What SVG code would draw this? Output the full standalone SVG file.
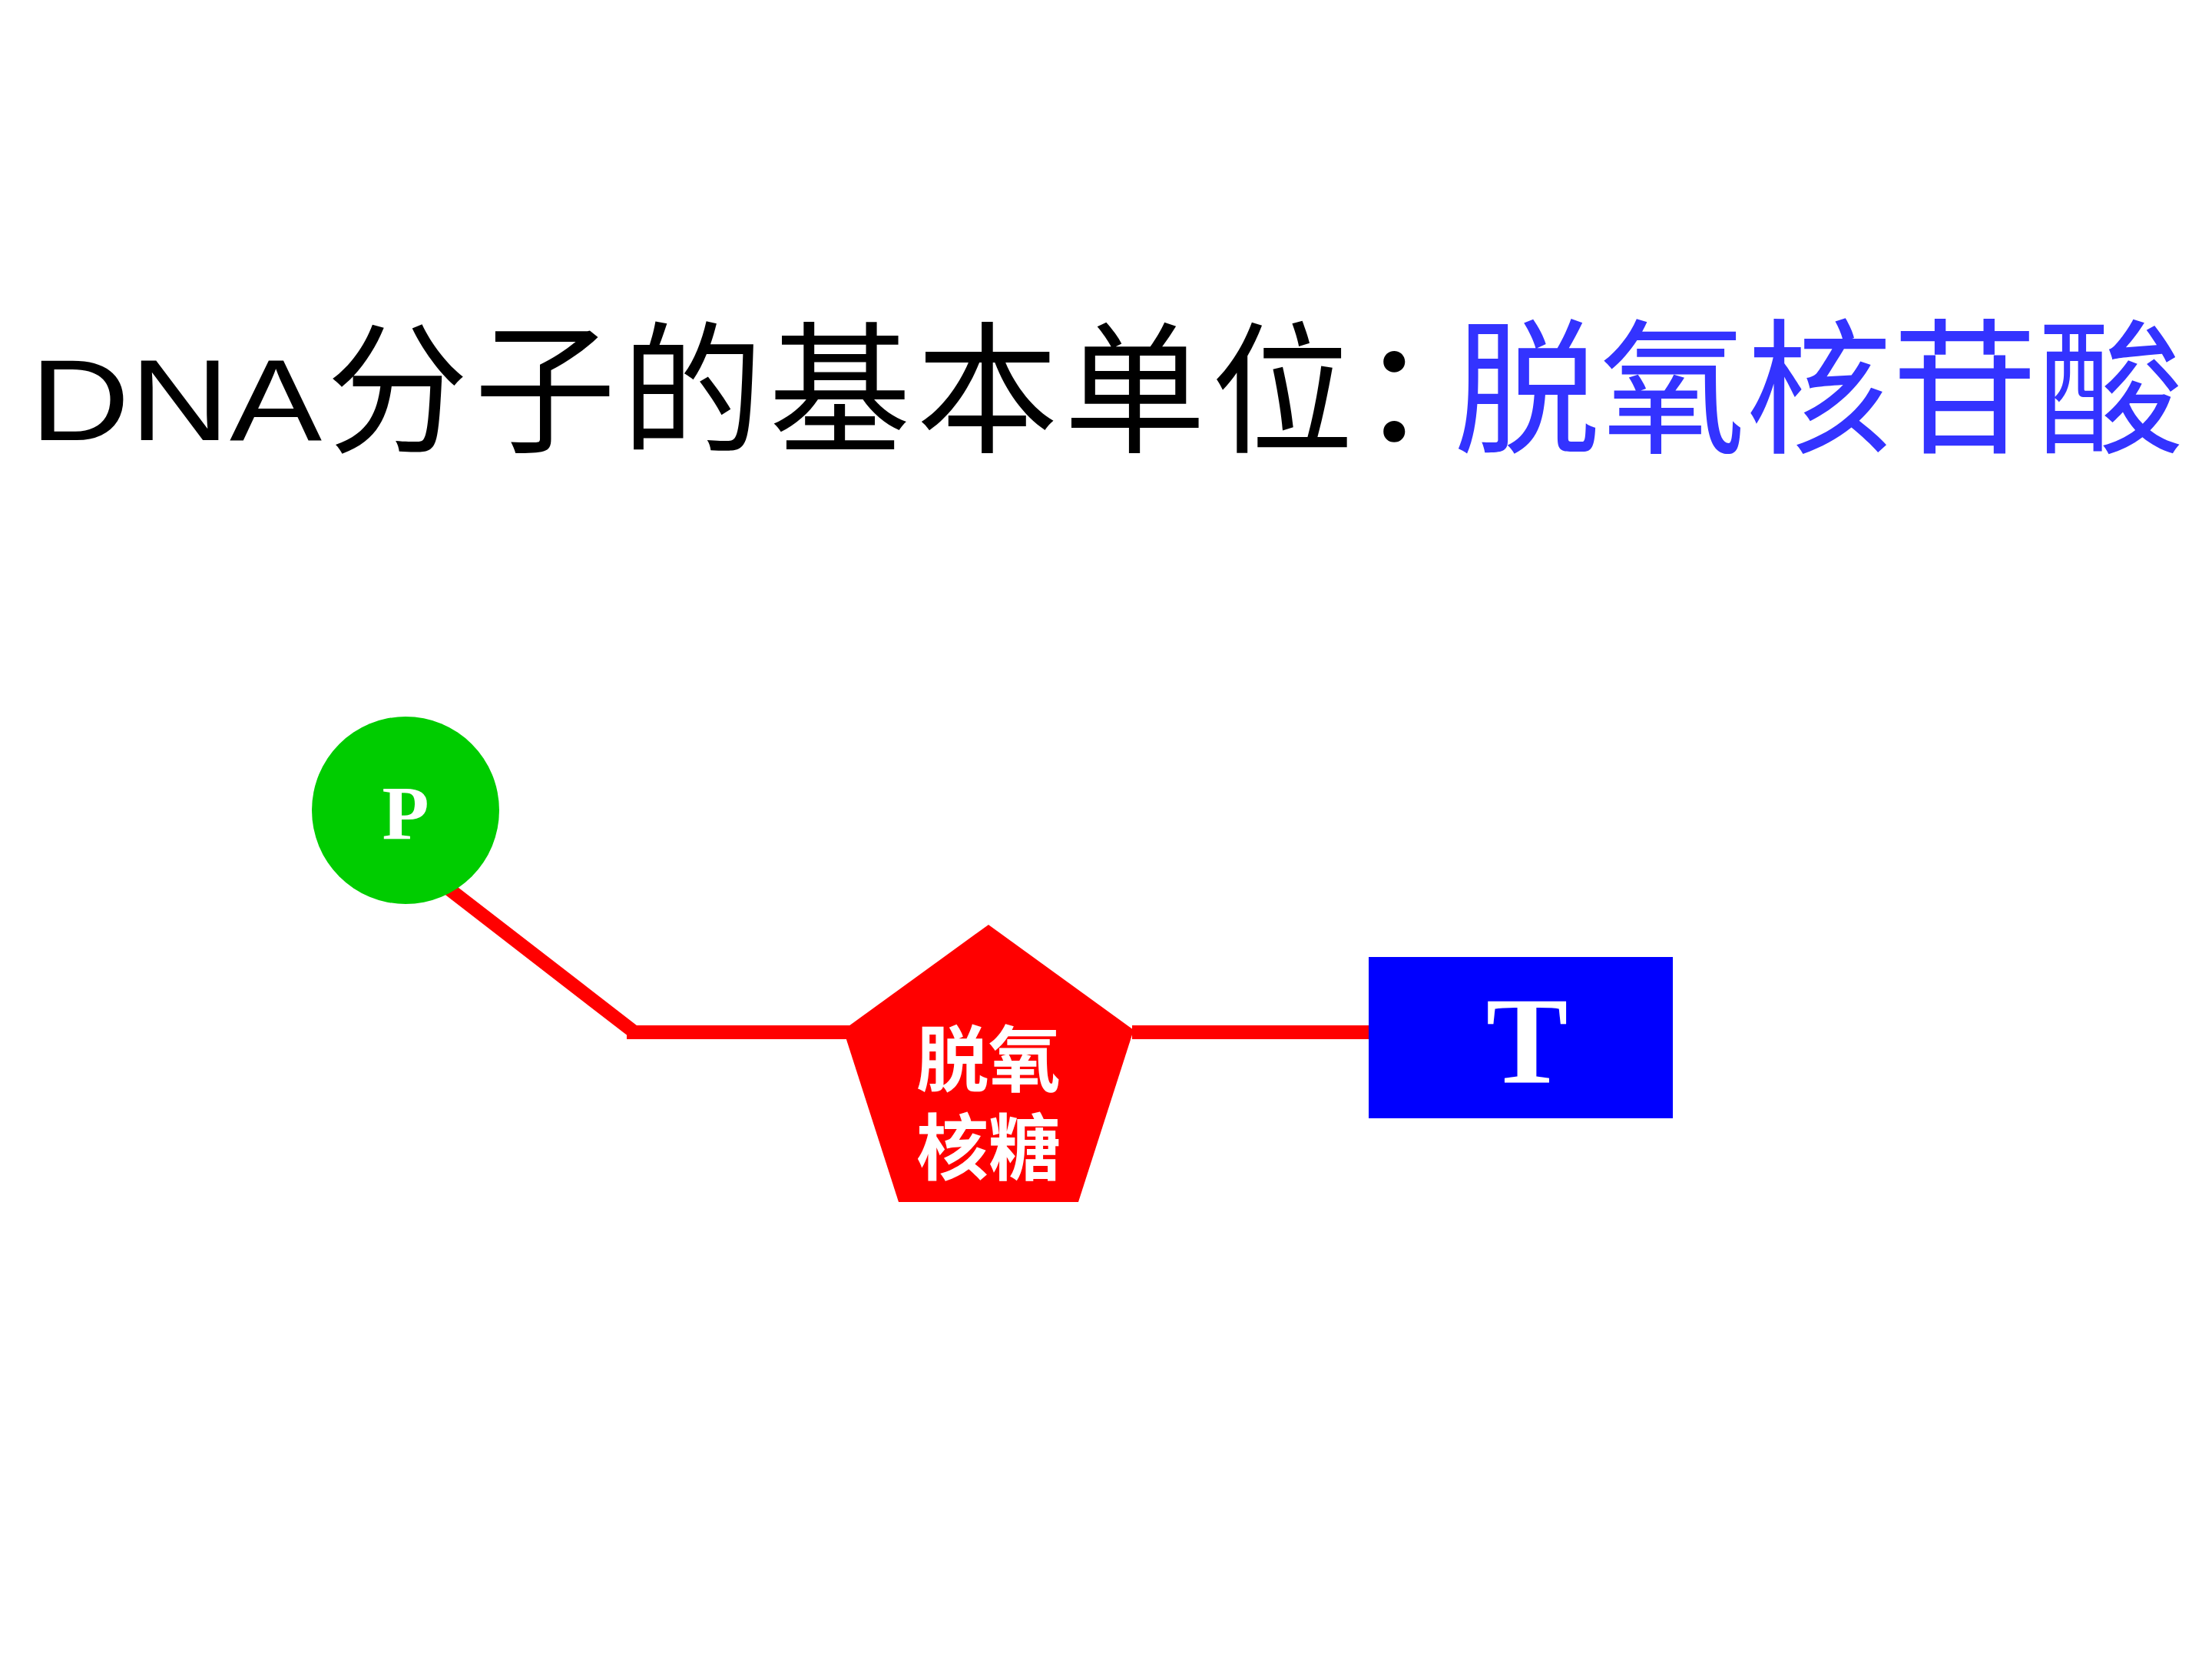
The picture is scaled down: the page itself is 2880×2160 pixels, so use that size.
<svg xmlns="http://www.w3.org/2000/svg" width="2880" height="2160" viewBox="0 0 2880 2160">
<style>
.cjk{font-family:"Noto Sans CJK SC","Noto Sans",sans-serif;}
.lbl{font-family:"Liberation Serif","Noto Sans CJK SC",serif;fill:#ffffff;font-weight:bold;text-anchor:middle;}
.conn{stroke:#ff0000;stroke-width:18;fill:none;}
</style>
<rect width="2880" height="2160" fill="#ffffff"/>
<g id="title">
<text x="39" y="573" font-family="Liberation Sans, sans-serif" font-size="150" fill="#000000" textLength="380" lengthAdjust="spacingAndGlyphs">DNA</text>
<text class="cjk" x="425" y="575" font-size="185" fill="#000000" letter-spacing="7">分子的基本单位：</text>
<text class="cjk" x="1893" y="575" font-size="190" fill="#3333ff">脱氧核苷酸</text>
</g>
<g id="connectors">
<line class="conn" x1="584" y1="1157" x2="826" y2="1344"/>
<line class="conn" x1="816" y1="1344" x2="1110" y2="1344"/>
<line class="conn" x1="1474" y1="1344" x2="1784" y2="1344"/>
</g>
<g id="phosphate">
<circle cx="528" cy="1055" r="122" fill="#00cc00"/>
<text class="lbl" x="528" y="1092" font-size="100">P</text>
</g>
<g id="deoxyribose">
<polygon points="1287,1204 1476,1341 1404,1565 1170,1565 1098,1341" fill="#ff0000"/>
<text class="lbl" x="1287" y="1414" font-size="94">脱氧</text>
<text class="lbl" x="1287" y="1529" font-size="94">核糖</text>
</g>
<g id="base-T">
<rect x="1782" y="1246" width="396" height="210" fill="#0000ff"/>
<text class="lbl" x="1988" y="1409" font-size="160" font-weight="normal">T</text>
</g>
</svg>
